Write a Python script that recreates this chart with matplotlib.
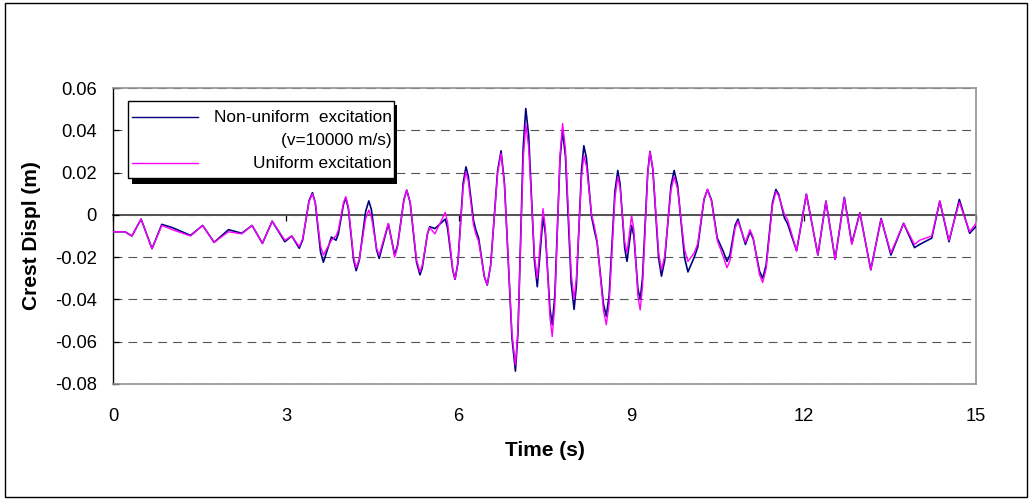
import matplotlib
matplotlib.use('Agg')
import matplotlib.pyplot as plt
from matplotlib.patches import Rectangle
from matplotlib.lines import Line2D

plt.rcParams['font.family'] = ['Liberation Sans', 'DejaVu Sans']

# tiempos (s)
tiempo = [0.00, 0.20, 0.32, 0.48, 0.67, 0.84, 1.02, 1.34, 1.55, 1.75,
          2.00, 2.23, 2.41, 2.59, 2.76, 2.98, 3.10, 3.23, 3.29, 3.40,
          3.46, 3.51, 3.60, 3.65, 3.79, 3.87, 3.91, 4.00, 4.04, 4.085,
          4.175, 4.22, 4.275, 4.385, 4.44, 4.485, 4.575, 4.62, 4.78, 4.89,
          4.94, 5.05, 5.10, 5.16, 5.27, 5.33, 5.37, 5.46, 5.50, 5.59,
          5.77, 5.81, 5.90, 5.94, 5.99, 6.08, 6.13, 6.17, 6.26, 6.30,
          6.35, 6.45, 6.50, 6.56, 6.68, 6.74, 6.80, 6.93, 6.99, 7.035,
          7.125, 7.17, 7.22, 7.32, 7.37, 7.42, 7.47, 7.51, 7.59, 7.63,
          7.675, 7.765, 7.81, 7.86, 7.96, 8.01, 8.05, 8.14, 8.18, 8.225,
          8.315, 8.36, 8.41, 8.52, 8.57, 8.62, 8.72, 8.77, 8.81, 8.89,
          8.93, 9.01, 9.05, 9.12, 9.16, 9.20, 9.29, 9.33, 9.38, 9.48,
          9.53, 9.585, 9.695, 9.75, 9.81, 9.93, 9.99, 10.10, 10.16, 10.27,
          10.33, 10.40, 10.50, 10.60, 10.67, 10.72, 10.81, 10.86, 10.99, 11.07,
          11.125, 11.235, 11.29, 11.35, 11.46, 11.52, 11.57, 11.67, 11.72, 11.88,
          12.05, 12.25, 12.39, 12.55, 12.71, 12.84, 12.98, 13.17, 13.35, 13.52,
          13.74, 13.93, 14.02, 14.23, 14.37, 14.53, 14.71, 14.89, 15.00]

# desplazamiento de cresta, excitacion no uniforme (v=10000 m/s)
no_uniforme = [-0.008, -0.008, -0.010, -0.002, -0.016, -0.0045, -0.006, -0.0097, -0.005, -0.013,
               -0.007, -0.0087, -0.005, -0.0135, -0.003, -0.0127, -0.010, -0.0158, -0.0119, 0.0066,
               0.0105, 0.0056, -0.0175, -0.0224, -0.0105, -0.012, -0.009, 0.005, 0.008, 0.0028,
               -0.0212, -0.0264, -0.0214, 0.0016, 0.0066, 0.0025, -0.0165, -0.0206, -0.0043, -0.019,
               -0.0144, 0.0071, 0.0117, 0.0057, -0.0224, -0.0284, -0.025, -0.009, -0.0056, -0.0065,
               -0.002, -0.0063, -0.0262, -0.0305, -0.0227, 0.0149, 0.0227, 0.0183, -0.0025, -0.007,
               -0.011, -0.0293, -0.0332, -0.0237, 0.0208, 0.0303, 0.0147, -0.0583, -0.0739, -0.0553,
               0.0317, 0.0503, 0.0377, -0.0214, -0.034, -0.0175, -0.001, -0.0087, -0.0444, -0.052,
               -0.0382, 0.0262, 0.040, 0.0276, -0.0323, -0.0447, -0.0334, 0.0214, 0.0327, 0.0268,
               -0.001, -0.007, -0.013, -0.042, -0.048, -0.038, 0.011, 0.021, 0.0147, -0.0157,
               -0.022, -0.005, -0.010, -0.035, -0.040, -0.0298, 0.0198, 0.030, 0.0214, -0.0204,
               -0.029, -0.0217, 0.0137, 0.021, 0.014, -0.020, -0.027, -0.020, -0.0153, 0.0073,
               0.012, 0.007, -0.011, -0.017, -0.022, -0.019, -0.005, -0.002, -0.014, -0.008,
               -0.0113, -0.0267, -0.030, -0.0237, 0.0057, 0.012, 0.0096, -0.0016, -0.004, -0.017,
               0.0098, -0.019, 0.0065, -0.021, 0.0083, -0.0135, 0.001, -0.026, -0.0017, -0.019,
               -0.004, -0.0155, -0.014, -0.011, 0.0065, -0.0127, 0.0073, -0.0087, -0.0055]

# desplazamiento de cresta, excitacion uniforme
uniforme = [-0.008, -0.008, -0.010, -0.002, -0.016, -0.005, -0.007, -0.010, -0.005, -0.013,
            -0.008, -0.009, -0.005, -0.0135, -0.003, -0.012, -0.010, -0.015, -0.0113, 0.0062,
            0.010, 0.0056, -0.0146, -0.019, -0.012, -0.010, -0.0072, 0.0058, 0.0086, 0.0036,
            -0.020, -0.025, -0.0209, -0.0018, 0.0023, -0.0009, -0.0158, -0.019, -0.004, -0.020,
            -0.0152, 0.0069, 0.0117, 0.0059, -0.0213, -0.027, -0.0239, -0.0091, -0.006, -0.009,
            0.0012, -0.0036, -0.0257, -0.0305, -0.0230, 0.0129, 0.0204, 0.0160, -0.0046, -0.009,
            -0.0126, -0.0294, -0.033, -0.0237, 0.0197, 0.029, 0.0140, -0.056, -0.071, -0.054,
            0.026, 0.043, 0.032, -0.019, -0.030, -0.0135, 0.003, -0.0061, -0.0485, -0.0576,
            -0.0425, 0.028, 0.0432, 0.031, -0.0278, -0.040, -0.030, 0.018, 0.028, 0.023,
            0.000, -0.005, -0.012, -0.045, -0.052, -0.042, 0.008, 0.018, 0.0127, -0.0127,
            -0.018, -0.0005, -0.007, -0.0385, -0.045, -0.034, 0.019, 0.030, 0.0218, -0.0178,
            -0.026, -0.0196, 0.0116, 0.018, 0.0122, -0.0162, -0.022, -0.018, -0.0136, 0.0076,
            0.012, 0.0065, -0.012, -0.0195, -0.025, -0.0217, -0.0063, -0.003, -0.013, -0.007,
            -0.0107, -0.0283, -0.032, -0.0255, 0.0045, 0.011, 0.009, 0.000, -0.002, -0.017,
            0.0098, -0.019, 0.0065, -0.021, 0.008, -0.014, 0.001, -0.026, -0.002, -0.018,
            -0.004, -0.014, -0.012, -0.010, 0.0065, -0.012, 0.006, -0.008, -0.004]

assert len(tiempo) == len(no_uniforme) == len(uniforme)

ticks_x = [0, 3, 6, 9, 12, 15]
ticks_y = [0.06, 0.04, 0.02, 0, -0.02, -0.04, -0.06, -0.08]
etiquetas_y = ['0.06', '0.04', '0.02', '0', '-0.02', '-0.04', '-0.06', '-0.08']

fig = plt.figure(figsize=(10.29, 4.99), dpi=100)
ax = fig.add_axes([0.1103, 0.2305, 0.8382, 0.5931])

ax.plot(tiempo, no_uniforme, color='#000080', lw=1.2, zorder=3)
ax.plot(tiempo, uniforme, color='#FF00FF', lw=1.0, zorder=4)

ax.set_xlim(0, 15)
ax.set_ylim(-0.08, 0.06)
ax.set_xticks(ticks_x)
ax.set_yticks(ticks_y)
ax.set_yticklabels(etiquetas_y)
ax.tick_params(axis='x', length=0, pad=17, labelsize=13.2)
ax.tick_params(axis='y', direction='in', length=4.5, width=0.9, pad=12, labelsize=13.2)

# cuadricula discontinua
ax.grid(axis='y', color='#555555', linestyle=(0, (8, 5.4)), lw=0.8)
ax.set_axisbelow(True)

for lado in ['top', 'right', 'bottom']:
    ax.spines[lado].set_color('#909090')
    ax.spines[lado].set_linewidth(1.2)
ax.spines['left'].set_color('black')
ax.spines['left'].set_linewidth(1.0)

# eje x en y=0 con marcas hacia abajo
eje_cero = ax.secondary_xaxis(0.08 / 0.14)
eje_cero.set_alignment('bottom')
eje_cero.set_xticks(ticks_x)
eje_cero.tick_params(direction='out', length=4.3, width=0.9, labelbottom=False, labeltop=False)
eje_cero.spines['bottom'].set_color('#444444')
eje_cero.spines['bottom'].set_linewidth(1.3)

ax.set_xlabel('Time (s)', fontsize=15, fontweight='bold', labelpad=12)
ax.set_ylabel('Crest Displ (m)', fontsize=15, fontweight='bold', labelpad=10)

# leyenda dibujada a mano (texto alineado a la derecha, con sombra)
W, H = 1029, 499
def fx(px):
    return px / W
def fy(py):
    return 1 - py / H

fig.patches.append(Rectangle((fx(132), fy(184)), fx(397) - fx(132), fy(105) - fy(184),
                             transform=fig.transFigure, facecolor='black', edgecolor='none', zorder=5))
fig.patches.append(Rectangle((fx(128), fy(178)), fx(394) - fx(128), fy(101) - fy(178),
                             transform=fig.transFigure, facecolor='white', edgecolor='black', lw=1.0, zorder=6))
fig.lines.append(Line2D([fx(132), fx(198)], [fy(117), fy(117)], transform=fig.transFigure,
                        color='#000080', lw=1.0, zorder=7))
fig.lines.append(Line2D([fx(132), fx(198)], [fy(163), fy(163)], transform=fig.transFigure,
                        color='#FF00FF', lw=1.0, zorder=7))
fig.text(fx(392), fy(117), 'Non-uniform  excitation', ha='right', va='center', fontsize=12.4, zorder=8)
fig.text(fx(392), fy(141), '(v=10000 m/s)', ha='right', va='center', fontsize=12.4, zorder=8)
fig.text(fx(392), fy(163), 'Uniform excitation', ha='right', va='center', fontsize=12.4, zorder=8)

# borde exterior del grafico
fig.patches.append(Rectangle((fx(5), fy(497)), fx(1027) - fx(5), fy(3) - fy(497),
                             transform=fig.transFigure, facecolor='none', edgecolor='black', lw=1.0))

fig.savefig('out.png', dpi=100)
